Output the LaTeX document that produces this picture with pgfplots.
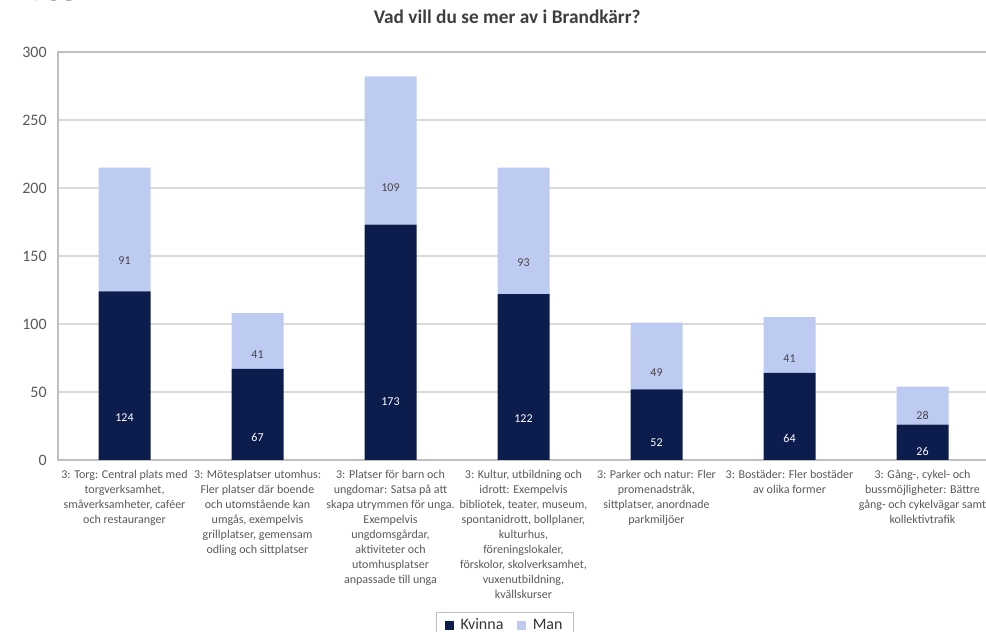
\documentclass[border=0pt]{standalone}
\usepackage{pgfplots}
\pgfplotsset{compat=1.18}
\usepackage{pgfplotstable}
\usepackage{fontspec}
\setmainfont{Carlito}
\definecolor{kv}{HTML}{0C1C4D}
\definecolor{mn}{HTML}{BDCAF2}
\definecolor{txt}{HTML}{595959}
\definecolor{grd}{HTML}{D9D9D9}
\definecolor{axl}{HTML}{BFBFBF}
\pgfplotstableread{
x k m
0 124 91
1 67 41
2 173 109
3 122 93
4 52 49
5 64 41
6 26 28
}\data
\begin{document}
\begin{tikzpicture}
\node[anchor=base west,font=\fontsize{24}{28}\selectfont,text=txt!80!black,inner sep=0pt] at (24pt,477pt) {ygg};
\begin{axis}[
  at={(43.5pt,129pt)}, anchor=south west,
  scale only axis, width=698.25pt, height=306pt,
  ybar stacked, bar width=39pt,
  xmin=-0.5, xmax=6.5, ymin=0, ymax=300,
  ytick={0,50,...,300},
  xtick={0,...,6},
  xticklabels={
    {3: Torg: Central plats med\\torgverksamhet,\\småverksamheter, caféer\\och restauranger},
    {3: Mötesplatser utomhus:\\Fler platser där boende\\och utomstående kan\\umgås, exempelvis\\grillplatser, gemensam\\odling och sittplatser},
    {3: Platser för barn och\\ungdomar: Satsa på att\\skapa utrymmen för unga.\\Exempelvis\\ungdomsgårdar,\\aktiviteter och\\utomhusplatser\\anpassade till unga},
    {3: Kultur, utbildning och\\idrott: Exempelvis\\bibliotek, teater, museum,\\spontanidrott, bollplaner,\\kulturhus,\\föreningslokaler,\\förskolor, skolverksamhet,\\vuxenutbildning,\\kvällskurser},
    {3: Parker och natur: Fler\\promenadstråk,\\sittplatser, anordnade\\parkmiljöer},
    {3: Bostäder: Fler bostäder\\av olika former},
    {3: Gång-, cykel- och\\bussmöjligheter: Bättre\\gång- och cykelvägar samt\\kollektivtrafik}},
  xticklabel style={align=center, font=\fontsize{9}{11.25}\selectfont, text=txt, anchor=north, yshift=-4pt},
  yticklabel style={font=\fontsize{12}{14}\selectfont, text=txt, xshift=-5pt},
  /pgf/number format/assume math mode=true,
  major tick length=0pt,
  ymajorgrids, grid style={grd, line width=0.8pt},
  axis line style={axl, line width=0.8pt},
  title={Vad vill du se mer av i Brandkärr?},
  title style={font=\bfseries\fontsize{14.5}{17}\selectfont, text=txt!70!black, at={(0.4825,1)}, anchor=south, yshift=12pt},
  legend columns=2,
  legend style={at={(0.48,-0.3725)}, anchor=north, draw=axl, font=\fontsize{12}{14}\selectfont, text=txt!60!black, /tikz/every odd column/.append style={column sep=3pt}, /tikz/every even column/.append style={column sep=8pt}, inner xsep=6pt, inner ysep=3pt},
  legend image code/.code={\fill[#1] (0pt,-3.5pt) rectangle (7pt,3.5pt);},
  nodes near coords,
  point meta=explicit,
  visualization depends on={\thisrow{seg} \as \segh},
  every node near coord/.append style={anchor=center, font=\fontsize{9}{11}\selectfont, yshift=-0.255*\segh pt},
]
\addplot[fill=kv, draw=none, every node near coord/.append style={text=white}]
  table[x=x, y=k, meta=k, create on use/seg/.style={create col/copy=k}] {\data};
\addplot[fill=mn, draw=none, every node near coord/.append style={text=txt!80!black}]
  table[x=x, y=m, meta=m, create on use/seg/.style={create col/copy=m}] {\data};
\legend{Kvinna, Man}
\end{axis}
\pgfresetboundingbox
\useasboundingbox (0,0) rectangle (739.5pt,474pt);
\end{tikzpicture}
\end{document}
